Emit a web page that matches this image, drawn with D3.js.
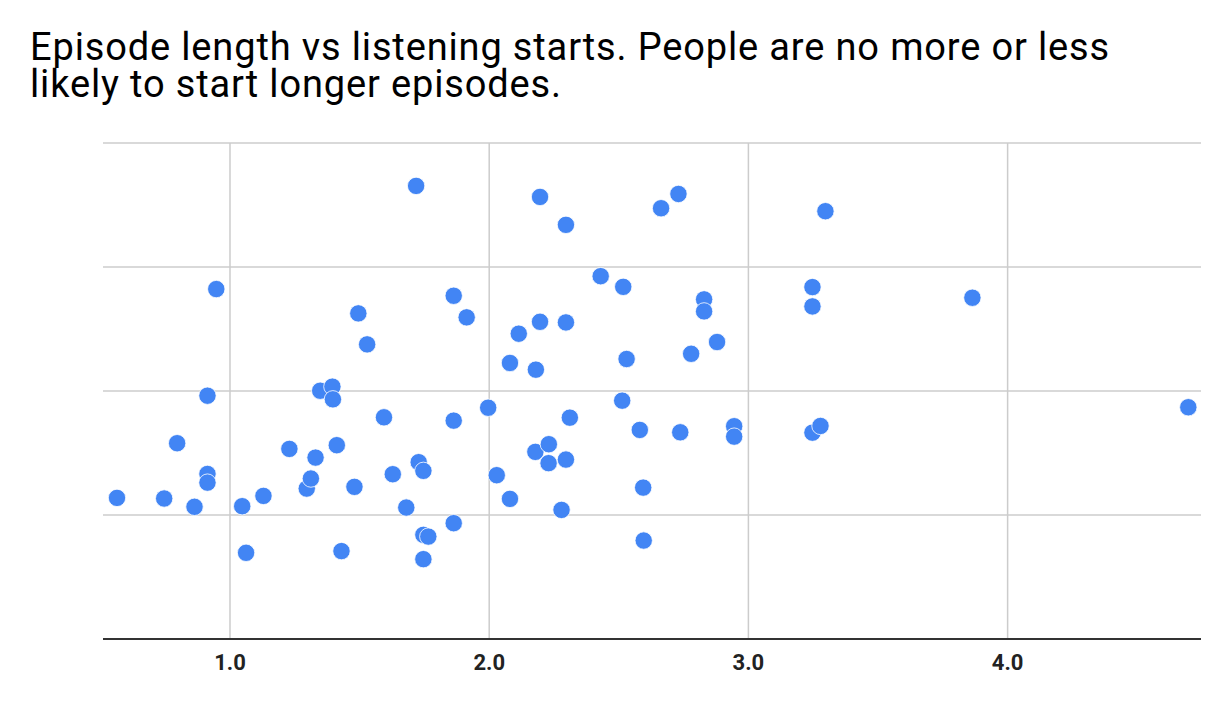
<!DOCTYPE html>
<html>
<head>
<meta charset="utf-8">
<script src="https://cdn.jsdelivr.net/npm/d3@7.9.0/dist/d3.min.js"></script>
<style>
  body { margin: 0; background: #fff; }
  svg { display: block; font-family: Roboto, sans-serif; }
</style>
</head>
<body>
<svg id="chart" width="1232" height="706"></svg>
<script>
// Episode length (x) vs listening starts (y)
const titleLines = [
  'Episode length vs listening starts. People are no more or less',
  'likely to start longer episodes.',
];
const xTicks = [1, 2, 3, 4];
const yTicks = [0, 1, 2, 3, 4];

const episodeLength = [
  0.566, 0.748, 0.798, 0.865, 0.915, 0.915, 0.915, 0.949, 1.049, 1.064,
  1.131, 1.231, 1.298, 1.314, 1.332, 1.350, 1.397, 1.399, 1.414, 1.432,
  1.482, 1.497, 1.531, 1.596, 1.630, 1.682, 1.720, 1.730, 1.748, 1.748,
  1.767, 1.748, 1.865, 1.865, 1.865, 1.915, 1.998, 2.031, 2.082, 2.082,
  2.116, 2.180, 2.182, 2.198, 2.198, 2.231, 2.232, 2.281, 2.298, 2.298,
  2.298, 2.313, 2.432, 2.515, 2.519, 2.532, 2.583, 2.596, 2.598, 2.665,
  2.732, 2.739, 2.781, 2.831, 2.831, 2.881, 2.947, 2.947, 3.249, 3.249,
  3.249, 3.280, 3.299, 3.866, 4.699,
];
const listeningStarts = [
  1.138, 1.133, 1.579, 1.066, 1.962, 1.331, 1.261, 2.822, 1.071, 0.695,
  1.154, 1.533, 1.213, 1.294, 1.463, 2.002, 2.035, 1.933, 1.563, 0.709,
  1.227, 2.626, 2.376, 1.788, 1.329, 1.060, 3.654, 1.426, 1.356, 0.840,
  0.826, 0.644, 2.768, 1.761, 0.934, 2.594, 1.865, 1.321, 1.130, 2.226,
  2.462, 1.509, 2.172, 3.565, 2.558, 1.418, 1.571, 1.041, 3.340, 2.553,
  1.447, 1.785, 2.926, 1.922, 2.840, 2.258, 1.686, 1.221, 0.794, 3.474,
  3.589, 1.667, 2.300, 2.739, 2.642, 2.395, 1.716, 1.632, 2.838, 2.682,
  1.664, 1.718, 3.450, 2.752, 1.869,
];

const points = episodeLength.map((x, i) => ({ x, y: listeningStarts[i] }));

const svg = d3.select('#chart');
const plot = { left: 103, right: 1201, top: 143, bottom: 639 };

const x = d3.scaleLinear().domain([0.512, 4.748]).range([plot.left, plot.right]);
const y = d3.scaleLinear().domain([0, 4]).range([plot.bottom, plot.top]);

// title (two tightly packed lines, as in the reference)
svg.append('text')
  .attr('x', 30)
  .attr('y', 60)
  .attr('font-size', 38)
  .attr('letter-spacing', 0.85)
  .attr('fill', '#000')
  .selectAll('tspan')
  .data(titleLines)
  .join('tspan')
  .attr('x', 30)
  .attr('dy', (d, i) => (i === 0 ? 0 : 37))
  .text((d) => d);

// horizontal gridlines
svg.append('g')
  .selectAll('line')
  .data(yTicks.filter((d) => d > 0))
  .join('line')
  .attr('x1', plot.left)
  .attr('x2', plot.right)
  .attr('y1', (d) => y(d))
  .attr('y2', (d) => y(d))
  .attr('stroke', '#cccccc')
  .attr('stroke-width', 1.5);

// x axis with vertical gridlines
const xAxis = svg.append('g')
  .attr('transform', `translate(0,${plot.bottom})`)
  .call(d3.axisBottom(x).tickValues(xTicks).tickFormat(d3.format('.1f'))
    .tickSize(-(plot.bottom - plot.top)).tickPadding(15));

xAxis.select('.domain').remove();
xAxis.selectAll('.tick line').attr('stroke', '#cccccc').attr('stroke-width', 1.5);
xAxis.selectAll('.tick text')
  .attr('font-family', 'Roboto, sans-serif')
  .attr('font-size', 22)
  .attr('font-weight', 700)
  .attr('fill', '#222');

// baseline
svg.append('line')
  .attr('x1', plot.left)
  .attr('x2', plot.right)
  .attr('y1', y(0))
  .attr('y2', y(0))
  .attr('stroke', '#333')
  .attr('stroke-width', 2);

// points
svg.append('g')
  .selectAll('circle')
  .data(points)
  .join('circle')
  .attr('cx', (d) => x(d.x))
  .attr('cy', (d) => y(d.y))
  .attr('r', 8.7)
  .attr('fill', '#4285f4')
  .attr('stroke', '#fff')
  .attr('stroke-width', 0.8);
</script>
</body>
</html>
